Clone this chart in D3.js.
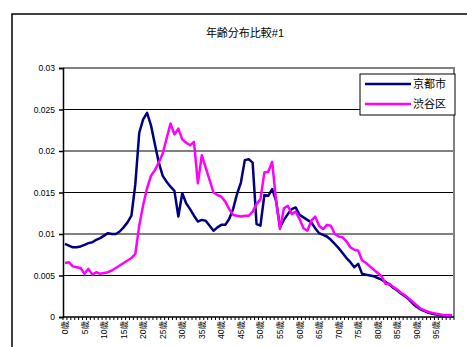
<!DOCTYPE html>
<html>
<head>
<meta charset="utf-8">
<script src="https://cdn.jsdelivr.net/npm/d3@7"></script>
<style>
  html, body { margin: 0; padding: 0; background: #fff; }
  svg { display: block; }
  text { font-family: "Liberation Sans", "Noto Sans CJK JP", sans-serif; fill: #000; }
</style>
</head>
<body>
<svg id="chart" width="467" height="347"></svg>
<script>
// Age categories 0歳 … 99歳
const ages = d3.range(0, 100);
const ageLabels = ages.map(a => a + "歳");

// Share of population at each age
const kyoto = [
  0.0088, 0.0086, 0.0084, 0.0084, 0.0085, 0.0087, 0.0089, 0.0090, 0.0093, 0.0095,
  0.0098, 0.0101, 0.0100, 0.0100, 0.0103, 0.0108, 0.0114, 0.0122, 0.0160, 0.0222,
  0.0238, 0.0246, 0.0231, 0.0208, 0.0186, 0.0170, 0.0163, 0.0157, 0.0152, 0.0121,
  0.0149, 0.0137, 0.0130, 0.0122, 0.0115, 0.0117, 0.0116, 0.0110, 0.0104, 0.0108,
  0.0111, 0.0111, 0.0118, 0.0130, 0.0148, 0.0162, 0.0189, 0.0190, 0.0186, 0.0112,
  0.0110, 0.0147, 0.0146, 0.0154, 0.0140, 0.0108, 0.0117, 0.0124, 0.0130, 0.0132,
  0.0123, 0.0120, 0.0117, 0.0114, 0.0107, 0.0101, 0.0099, 0.0097, 0.0093, 0.0088,
  0.0083, 0.0077, 0.0071, 0.0066, 0.0060, 0.0064, 0.0052, 0.0051, 0.0050, 0.0049,
  0.0047, 0.0045, 0.0042, 0.0039, 0.0035, 0.0032, 0.0028, 0.0025, 0.0021, 0.0016,
  0.0012, 0.0009, 0.0007, 0.0005, 0.0004, 0.0003, 0.0002, 0.0002, 0.0001, 0.0001
];
const shibuya = [
  0.0065, 0.0066, 0.0061, 0.0060, 0.0059, 0.0052, 0.0058, 0.0051, 0.0054, 0.0052,
  0.0053, 0.0054, 0.0056, 0.0059, 0.0062, 0.0065, 0.0068, 0.0071, 0.0076, 0.0110,
  0.0135, 0.0155, 0.0170, 0.0177, 0.0186, 0.0197, 0.0215, 0.0233, 0.0220, 0.0227,
  0.0214, 0.0210, 0.0207, 0.0211, 0.0161, 0.0195, 0.0180, 0.0165, 0.0150, 0.0147,
  0.0145, 0.0139, 0.0130, 0.0123, 0.0122, 0.0121, 0.0122, 0.0122, 0.0127, 0.0136,
  0.0142, 0.0174, 0.0175, 0.0187, 0.0140, 0.0106, 0.0131, 0.0134, 0.0124, 0.0127,
  0.0118, 0.0107, 0.0104, 0.0116, 0.0121, 0.0110, 0.0106, 0.0111, 0.0110, 0.0100,
  0.0097, 0.0096, 0.0091, 0.0084, 0.0081, 0.0080, 0.0068, 0.0065, 0.0061, 0.0057,
  0.0053, 0.0049, 0.0040, 0.0040, 0.0036, 0.0033, 0.0029, 0.0026, 0.0022, 0.0018,
  0.0014, 0.0010, 0.0008, 0.0006, 0.0005, 0.0004, 0.0003, 0.0002, 0.0002, 0.0002
];

const seriesNames = ["京都市", "渋谷区"];
const seriesColors = ["#000080", "#ff00ff"];
const yTicks = [0, 0.005, 0.01, 0.015, 0.02, 0.025, 0.03];
const yTickLabels = ["0", "0.005", "0.01", "0.015", "0.02", "0.025", "0.03"];
const chartTitle = "年齢分布比較#1";

const svg = d3.select("#chart");
const plot = { left: 63, right: 454, top: 68, bottom: 317 };

// Outer chart frame (runs past the window on the right and bottom)
svg.append("rect")
  .attr("x", 12).attr("y", 14)
  .attr("width", 470).attr("height", 350)
  .attr("fill", "#fff").attr("stroke", "#000").attr("stroke-width", 1.5);

svg.append("text")
  .attr("x", 245).attr("y", 37)
  .attr("text-anchor", "middle")
  .attr("font-size", 11)
  .text(chartTitle);

const x = d3.scaleBand().domain(ages).range([plot.left, plot.right]).paddingInner(0).paddingOuter(0);
const y = d3.scaleLinear().domain([0, 0.03]).range([plot.bottom, plot.top]);

// Horizontal gridlines
svg.append("g")
  .selectAll("line")
  .data(yTicks.filter(t => t > 0 && t < 0.03))
  .join("line")
  .attr("x1", plot.left).attr("x2", plot.right)
  .attr("y1", d => y(d)).attr("y2", d => y(d))
  .attr("stroke", "#000").attr("stroke-width", 1);

// Plot area border: grey top and right edges
svg.append("path")
  .attr("d", `M${plot.left},${plot.top}H${plot.right}V${plot.bottom}`)
  .attr("fill", "none").attr("stroke", "#808080").attr("stroke-width", 2);

// Y axis
const yAxis = d3.axisLeft(y)
  .tickValues(yTicks)
  .tickSize(4)
  .tickPadding(4)
  .tickFormat((d, i) => yTickLabels[i]);
const gy = svg.append("g").attr("transform", `translate(${plot.left},0)`).call(yAxis);
gy.select(".domain").attr("stroke", "#000").attr("stroke-width", 1.5);
gy.selectAll(".tick line").attr("stroke", "#000").attr("stroke-width", 1.5);
gy.selectAll(".tick text").attr("font-size", 8.5).attr("font-family", "Liberation Sans, sans-serif");

// X axis: one tick at every category boundary, a label every 5 years
const gx = svg.append("g").attr("transform", `translate(0,${plot.bottom})`);
const boundaries = ages.map(a => x(a)).concat([x(ages[ages.length - 1]) + x.bandwidth()]);
gx.selectAll("line.bt")
  .data(boundaries)
  .join("line")
  .attr("class", "bt")
  .attr("x1", d => d).attr("x2", d => d)
  .attr("y1", 0).attr("y2", 3)
  .attr("stroke", "#000").attr("stroke-width", 1);
gx.append("line")
  .attr("x1", plot.left).attr("x2", plot.right)
  .attr("stroke", "#000").attr("stroke-width", 1.5);
gx.selectAll("text.xl")
  .data(ages.filter(a => a % 5 === 0))
  .join("text")
  .attr("class", "xl")
  .attr("font-size", 8.5)
  .attr("text-anchor", "end")
  .attr("dominant-baseline", "central")
  .attr("transform", d => `translate(${x(d) + x.bandwidth() / 2},4) rotate(-90)`)
  .text(d => ageLabels[d]);

// Series lines
const line = d3.line()
  .x((d, i) => x(ages[i]) + x.bandwidth() / 2)
  .y(d => y(d));
[kyoto, shibuya].forEach((vals, k) => {
  svg.append("path")
    .datum(vals)
    .attr("d", line)
    .attr("fill", "none")
    .attr("stroke", seriesColors[k])
    .attr("stroke-width", 2.5)
    .attr("stroke-linejoin", "round");
});

// Legend
const lg = svg.append("g").attr("transform", "translate(360,74)");
lg.append("rect")
  .attr("width", 95).attr("height", 41)
  .attr("fill", "#fff").attr("stroke", "#000").attr("stroke-width", 1);
seriesNames.forEach((name, i) => {
  const yy = 10 + i * 20;
  lg.append("line")
    .attr("x1", 5).attr("x2", 51)
    .attr("y1", yy).attr("y2", yy)
    .attr("stroke", seriesColors[i]).attr("stroke-width", 2.5);
  lg.append("text")
    .attr("x", 53).attr("y", yy)
    .attr("dominant-baseline", "central")
    .attr("font-size", 11)
    .text(name);
});
</script>
</body>
</html>
